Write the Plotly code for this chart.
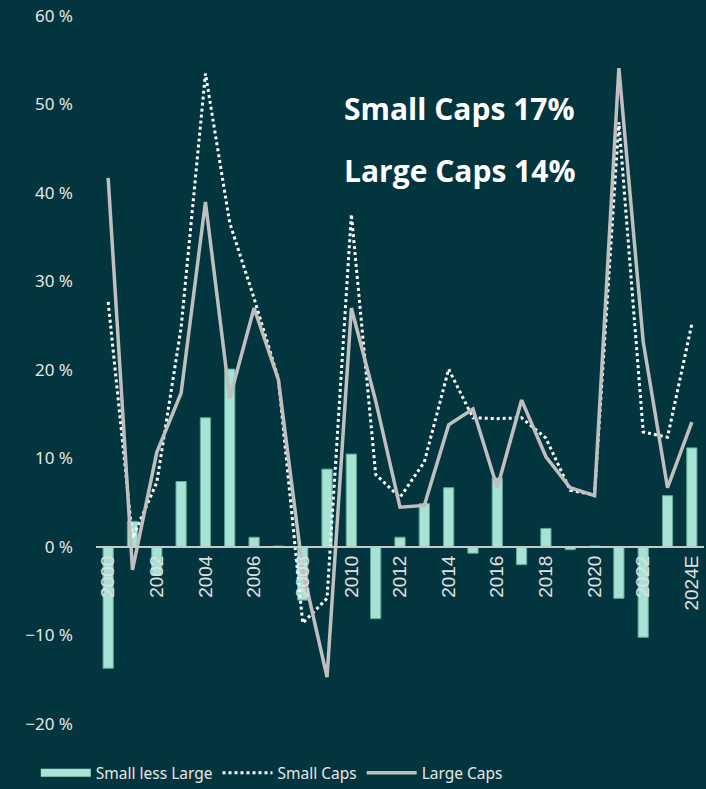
import plotly.graph_objects as go

years = ["2000", "2001", "2002", "2003", "2004", "2005", "2006", "2007", "2008",
         "2009", "2010", "2011", "2012", "2013", "2014", "2015", "2016", "2017",
         "2018", "2019", "2020", "2021", "2022", "2023", "2024E"]
small_caps = [27.7, 1.0, 7.3, 24.8, 53.5, 36.6, 28.1, 19.0, -8.6, -5.8, 37.6, 8.2,
              5.6, 9.6, 20.1, 14.6, 14.5, 14.6, 12.3, 6.4, 5.9, 48.0, 13.0, 12.4, 25.2]
large_caps = [41.7, -2.6, 10.7, 17.4, 39.0, 16.8, 27.0, 18.9, -2.6, -14.7, 27.0, 16.5,
              4.5, 4.7, 13.8, 15.6, 6.7, 16.6, 10.2, 6.7, 5.8, 54.1, 23.2, 6.7, 14.1]
small_less_large = [-13.7, 2.9, -3.2, 7.4, 14.6, 20.1, 1.1, 0.1, -6.0, 8.8, 10.5, -8.1,
                    1.1, 4.9, 6.7, -0.7, 7.8, -2.0, 2.1, -0.3, 0.1, -5.8, -10.2, 5.8, 11.2]
label_years = years[::2]

bg = "#03353f"
bar_col = "#a6e3d4"

traces = [
    go.Bar(x=years, y=small_less_large, name="Small less Large",
           marker=dict(color=bar_col, line=dict(color="#5fa898", width=1)),
           width=0.42, showlegend=False),
    # wide swatch for the bar series in the legend
    go.Scatter(x=[None], y=[None], name="Small less Large", mode="lines",
               line=dict(color=bar_col, width=8)),
    go.Scatter(x=years, y=small_caps, name="Small Caps", mode="lines",
               line=dict(color="white", width=3, dash="dot")),
    go.Scatter(x=years, y=large_caps, name="Large Caps", mode="lines",
               line=dict(color="#bfbfbf", width=3.5)),
]

layout = go.Layout(
    width=706, height=789,
    paper_bgcolor=bg, plot_bgcolor=bg,
    margin=dict(l=96, r=2, t=16, b=65),
    font=dict(family="Noto Sans", color="#e6e6e6", size=17),
    showlegend=True,
    legend=dict(orientation="h", xref="container", yref="container",
                x=0.385, xanchor="center", y=0.02, yanchor="middle",
                font=dict(size=15.5, color="#e6e6e6"), traceorder="normal",
                itemwidth=50),
    xaxis=dict(type="category", anchor="free", position=0.25,
               showline=True, linecolor="#c8c8c8", linewidth=2,
               showgrid=False, zeroline=False, ticks="",
               tickmode="array", tickvals=label_years, ticktext=label_years,
               tickangle=-90, tickfont=dict(family="Liberation Sans", size=19, color="#e0e0e0"),
               range=[-0.5, 24.5], automargin=False),
    yaxis=dict(range=[-20, 60], dtick=10, showgrid=False, zeroline=False,
               showline=False, ticksuffix=" %", ticks="",
               ticklabelstandoff=22, automargin=False,
               tickfont=dict(family="Noto Sans", size=17, color="#e6e6e6")),
    annotations=[
        dict(text="<b>Small Caps 17%</b>", x=0.405, y=0.870, xref="paper", yref="paper",
             xanchor="left", yanchor="middle", showarrow=False,
             font=dict(family="Open Sans", size=30, color="white")),
        dict(text="<b>Large Caps 14%</b>", x=0.405, y=0.782, xref="paper", yref="paper",
             xanchor="left", yanchor="middle", showarrow=False,
             font=dict(family="Open Sans", size=30, color="white")),
    ],
)

fig = go.Figure(traces, layout)
fig.write_html("out.html", config={"displayModeBar": False},
               post_script="document.body.style.margin='0';")
